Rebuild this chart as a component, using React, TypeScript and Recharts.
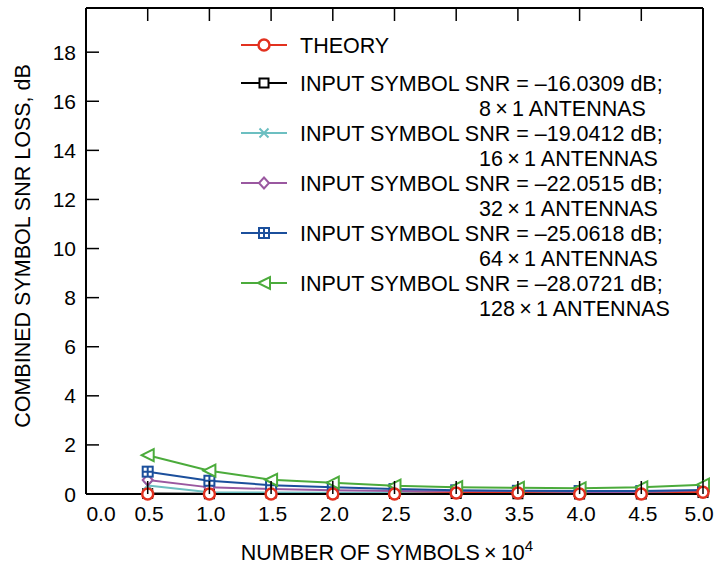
import { Legend, Line, LineChart, XAxis, YAxis } from "recharts";

// Combined symbol SNR loss vs. number of symbols, theory vs. simulated arrays.

const SYMBOLS = [0.5, 1.0, 1.5, 2.0, 2.5, 3.0, 3.5, 4.0, 4.5, 5.0];

const THEORY = [0.0, 0.0, 0.0, 0.0, 0.0, 0.04, 0.04, 0.0, 0.0, 0.07];
const LOSS_8X1 = [0.02, 0.01, 0.04, 0.03, 0.02, 0.02, 0.01, 0.0, 0.0, 0.06];
const LOSS_16X1 = [0.35, 0.07, 0.06, 0.05, 0.05, 0.04, 0.04, 0.03, 0.03, 0.06];
const LOSS_32X1 = [0.57, 0.27, 0.2, 0.15, 0.12, 0.1, 0.1, 0.08, 0.08, 0.1];
const LOSS_64X1 = [0.91, 0.54, 0.36, 0.28, 0.2, 0.15, 0.13, 0.12, 0.12, 0.16];
const LOSS_128X1 = [1.58, 0.95, 0.58, 0.46, 0.34, 0.28, 0.25, 0.23, 0.27, 0.38];

const X_TICKS = [0, 0.5, 1.0, 1.5, 2.0, 2.5, 3.0, 3.5, 4.0, 4.5, 5.0];
const Y_TICKS = [0, 2, 4, 6, 8, 10, 12, 14, 16, 18];

type Shape = "circle" | "square" | "cross" | "diamond" | "boxplus" | "triangleLeft";

type Series = {
  key: string;
  label: string;
  sublabel?: string;
  color: string;
  shape: Shape;
  values: number[];
};

const TIMES = "\u2009×\u2009";

const SERIES: Series[] = [
  { key: "theory", label: "THEORY", color: "#e2311f", shape: "circle", values: THEORY },
  {
    key: "a8",
    label: "INPUT SYMBOL SNR = –16.0309 dB;",
    sublabel: `8${TIMES}1 ANTENNAS`,
    color: "#000000",
    shape: "square",
    values: LOSS_8X1,
  },
  {
    key: "a16",
    label: "INPUT SYMBOL SNR = –19.0412 dB;",
    sublabel: `16${TIMES}1 ANTENNAS`,
    color: "#6cbfc1",
    shape: "cross",
    values: LOSS_16X1,
  },
  {
    key: "a32",
    label: "INPUT SYMBOL SNR = –22.0515 dB;",
    sublabel: `32${TIMES}1 ANTENNAS`,
    color: "#9a58a0",
    shape: "diamond",
    values: LOSS_32X1,
  },
  {
    key: "a64",
    label: "INPUT SYMBOL SNR = –25.0618 dB;",
    sublabel: `64${TIMES}1 ANTENNAS`,
    color: "#1b4f9c",
    shape: "boxplus",
    values: LOSS_64X1,
  },
  {
    key: "a128",
    label: "INPUT SYMBOL SNR = –28.0721 dB;",
    sublabel: `128${TIMES}1 ANTENNAS`,
    color: "#4bab3b",
    shape: "triangleLeft",
    values: LOSS_128X1,
  },
];

const rows = SYMBOLS.map((x, i) => {
  const row: Record<string, number> = { x };
  SERIES.forEach((s) => {
    row[s.key] = s.values[i];
  });
  return row;
});

const FONT = 21.5;
const TICK_FONT = 21;
const TICK_LEN = 13;

function Marker({ cx, cy, shape, color }: { cx: number; cy: number; shape: Shape; color: string }) {
  switch (shape) {
    case "circle":
      return <circle cx={cx} cy={cy} r={5.5} fill="#fff" stroke={color} strokeWidth={2.5} />;
    case "square":
      return (
        <rect x={cx - 4.5} y={cy - 4.5} width={9} height={9} fill="#fff" stroke={color} strokeWidth={2} />
      );
    case "cross":
      return (
        <path
          d={`M${cx - 4.5},${cy - 4.5}L${cx + 4.5},${cy + 4.5}M${cx - 4.5},${cy + 4.5}L${cx + 4.5},${cy - 4.5}`}
          stroke={color}
          strokeWidth={2}
          fill="none"
        />
      );
    case "diamond":
      return (
        <path
          d={`M${cx},${cy - 5.5}L${cx + 5},${cy}L${cx},${cy + 5.5}L${cx - 5},${cy}Z`}
          fill="#fff"
          stroke={color}
          strokeWidth={2}
        />
      );
    case "boxplus":
      return (
        <g stroke={color} strokeWidth={2} fill="#fff">
          <rect x={cx - 5} y={cy - 5} width={10} height={10} />
          <path d={`M${cx - 5},${cy}L${cx + 5},${cy}M${cx},${cy - 5}L${cx},${cy + 5}`} />
        </g>
      );
    case "triangleLeft":
      return (
        <path
          d={`M${cx - 6},${cy}L${cx + 6},${cy - 6}L${cx + 6},${cy + 6}Z`}
          fill="#fff"
          stroke={color}
          strokeWidth={2}
        />
      );
  }
}

const makeDot = (s: Series) => (props: any) => {
  const { cx, cy, index } = props;
  return (
    <g key={`${s.key}-${index}`}>
      <Marker cx={cx} cy={cy} shape={s.shape} color={s.color} />
    </g>
  );
};

// Ticks point into the plot, so each tick renderer draws its own mark.
// Bottom axis: tickSize 0, tickMargin 12 -> y sits 12px under the axis line.
function renderBottomTick(props: any) {
  const { x, y, payload, index } = props;
  const last = index === X_TICKS.length - 1;
  // nudge the end labels off the corners
  const shift = index === 0 ? 15 : last ? -4 : 1.5;
  return (
    <g>
      <line x1={x} x2={x} y1={y - 12} y2={y - 12 - TICK_LEN} stroke="#000" strokeWidth={1.5} />
      <text x={x + shift} y={y} dy="0.71em" textAnchor="middle" fontSize={TICK_FONT} fill="#000">
        {Number(payload.value).toFixed(1)}
      </text>
    </g>
  );
}

function renderTopTick(props: any) {
  const { x, y } = props;
  return <line x1={x} x2={x} y1={y} y2={y + TICK_LEN} stroke="#000" strokeWidth={1.5} />;
}

// Left axis: tickSize 0, tickMargin 10 -> x sits 10px left of the axis line.
function renderLeftTick(props: any) {
  const { x, y, payload } = props;
  return (
    <g>
      <line x1={x + 10} x2={x + 10 + TICK_LEN} y1={y} y2={y} stroke="#000" strokeWidth={1.5} />
      <text x={x} y={y} dy="0.36em" textAnchor="end" fontSize={TICK_FONT} fill="#000">
        {payload.value}
      </text>
    </g>
  );
}

function renderRightTick(props: any) {
  const { x, y } = props;
  return <line x1={x} x2={x - TICK_LEN} y1={y} y2={y} stroke="#000" strokeWidth={1.5} />;
}

function LegendBox() {
  return (
    <svg width={470} height={300}>
      {SERIES.map((s, i) => {
        const cy = i === 0 ? 15 : 53 + (i - 1) * 50;
        return (
          <g key={s.key}>
            <line x1={0} x2={46} y1={cy} y2={cy} stroke={s.color} strokeWidth={2} />
            <Marker cx={23} cy={cy} shape={s.shape} color={s.color} />
            <text x={59} y={cy} dy="0.36em" fontSize={FONT} fill="#000">
              {s.label}
            </text>
            {s.sublabel && (
              <text x={238} y={cy + 25} dy="0.36em" fontSize={FONT} fill="#000">
                {s.sublabel}
              </text>
            )}
          </g>
        );
      })}
    </svg>
  );
}

const axisLine = { stroke: "#000", strokeWidth: 2 };

export default function App() {
  // theory drawn last so its circles sit on top
  const drawOrder = [...SERIES.slice(1), SERIES[0]];
  return (
    <div
      style={{
        position: "absolute",
        left: 0,
        top: 0,
        width: 714,
        height: 568,
        background: "#fff",
        fontFamily: "'Liberation Sans', Arial, sans-serif",
      }}
    >
      <LineChart width={714} height={568} data={rows} margin={{ top: 7, right: 10, bottom: 0, left: 0 }}>
        <XAxis
          xAxisId="b"
          dataKey="x"
          type="number"
          domain={[0, 5]}
          ticks={X_TICKS}
          interval={0}
          height={74}
          axisLine={axisLine}
          tickLine={false}
          tickSize={0}
          tickMargin={12}
          tick={renderBottomTick}
          label={{
            content: () => (
              <text x={387} y={560} textAnchor="middle" fontSize={FONT} fill="#000">
                <tspan>{`NUMBER OF SYMBOLS${TIMES}10`}</tspan>
                <tspan dy={-9} fontSize={15}>
                  4
                </tspan>
              </text>
            ),
          }}
        />
        <XAxis
          xAxisId="t"
          orientation="top"
          dataKey="x"
          type="number"
          domain={[0, 5]}
          ticks={X_TICKS}
          interval={0}
          height={1}
          axisLine={axisLine}
          tickLine={false}
          tickSize={0}
          tickMargin={0}
          tick={renderTopTick}
        />
        <YAxis
          yAxisId="l"
          type="number"
          domain={[0, 19.8]}
          ticks={Y_TICKS}
          interval={0}
          width={86}
          axisLine={axisLine}
          tickLine={false}
          tickSize={0}
          tickMargin={10}
          tick={renderLeftTick}
          label={{
            content: () => (
              <text
                transform="translate(22,246) rotate(-90)"
                textAnchor="middle"
                dy="0.36em"
                fontSize={FONT}
                fill="#000"
              >
                COMBINED SYMBOL SNR LOSS, dB
              </text>
            ),
          }}
        />
        <YAxis
          yAxisId="r"
          orientation="right"
          type="number"
          domain={[0, 19.8]}
          ticks={Y_TICKS}
          interval={0}
          width={1}
          axisLine={axisLine}
          tickLine={false}
          tickSize={0}
          tickMargin={0}
          tick={renderRightTick}
        />
        <Legend
          verticalAlign="middle"
          layout="horizontal"
          wrapperStyle={{ left: 241, top: 30, width: 470, height: 300 }}
          content={() => <LegendBox />}
        />
        {drawOrder.map((s) => (
          <Line
            key={s.key}
            xAxisId="b"
            yAxisId="l"
            dataKey={s.key}
            name={s.label}
            stroke={s.color}
            strokeWidth={2}
            dot={makeDot(s)}
            activeDot={false}
            isAnimationActive={false}
          />
        ))}
      </LineChart>
    </div>
  );
}
